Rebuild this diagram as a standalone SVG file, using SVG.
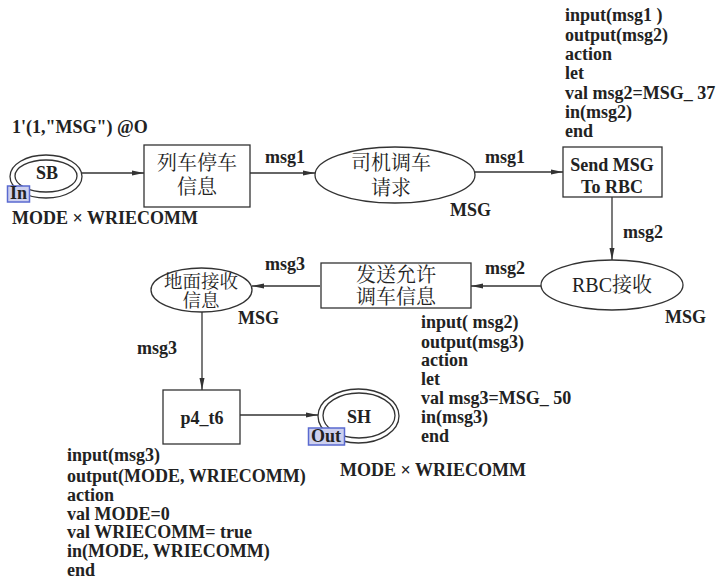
<svg xmlns="http://www.w3.org/2000/svg" width="728" height="580" viewBox="0 0 728 580">
<style>
.t{font-family:"Liberation Serif","Noto Sans CJK SC",serif;font-size:18px;font-weight:bold;fill:#222}
.c{font-family:"Liberation Serif","Noto Serif CJK SC","Noto Sans CJK SC",serif;font-size:20px;fill:#222}
.m{text-anchor:middle}
.s{fill:#fff;stroke:#333;stroke-width:1.3}
.e{fill:none;stroke:#333;stroke-width:1.3}
.tag{fill:#cdd0ee;stroke:#5a6ad0;stroke-width:1.5}
</style>
<defs>
<marker id="a" viewBox="0 0 12 6" refX="12" refY="3" markerWidth="12" markerHeight="6" markerUnits="userSpaceOnUse" orient="auto">
<path d="M0,0.5 L12,3 L0,5.5 Z" fill="#333"/>
</marker>
</defs>
<rect width="728" height="580" fill="#fff"/>

<g id="connectors" class="e" marker-end="url(#a)">
<line x1="82" y1="173" x2="144" y2="173"/>
<line x1="250" y1="173" x2="315" y2="173"/>
<line x1="475" y1="172" x2="563" y2="172"/>
<line x1="612" y1="197" x2="612" y2="260"/>
<line x1="542" y1="286" x2="471" y2="286"/>
<line x1="320" y1="286" x2="252" y2="286"/>
<line x1="202" y1="312" x2="202" y2="390"/>
<line x1="240" y1="415" x2="318" y2="415"/>
</g>

<g id="labels">
<text class="t" x="265" y="163">msg1</text>
<text class="t" x="485" y="163">msg1</text>
<text class="t" x="623" y="238">msg2</text>
<text class="t" x="485" y="274">msg2</text>
<text class="t" x="265" y="270">msg3</text>
<text class="t" x="137" y="354">msg3</text>
</g>

<g id="SB">
<ellipse class="s" cx="46" cy="176.5" rx="36" ry="21.5"/>
<ellipse class="e" cx="46" cy="176" rx="31" ry="16"/>
<text class="t m" x="47" y="179">SB</text>
<rect class="tag" x="7.5" y="186" width="22" height="16"/>
<text class="t" x="10" y="199">In</text>
<text class="t" x="12" y="133">1'(1,"MSG") @O</text>
<text class="t" x="12" y="224">MODE × WRIECOMM</text>
</g>

<g id="T1">
<rect class="s" x="144" y="145" width="106" height="62"/>
<text class="c m" x="197" y="170">列车停车</text>
<text class="c m" x="197" y="194">信息</text>
</g>

<g id="P2">
<ellipse class="s" cx="395" cy="175" rx="80" ry="28"/>
<text class="c m" x="391" y="170">司机调车</text>
<text class="c m" x="391" y="195">请求</text>
<text class="t" x="450" y="216">MSG</text>
</g>

<g id="T2">
<rect class="s" x="563" y="147" width="99" height="50"/>
<text class="t m" x="612" y="171">Send MSG</text>
<text class="t m" x="612" y="193">To RBC</text>
<text class="t" x="565" y="21">input(msg1 )</text>
<text class="t" x="565" y="40.5">output(msg2)</text>
<text class="t" x="565" y="60">action</text>
<text class="t" x="565" y="79">let</text>
<text class="t" x="565" y="98.5">val msg2=MSG_ 37</text>
<text class="t" x="565" y="118">in(msg2)</text>
<text class="t" x="565" y="137">end</text>
</g>

<g id="P3">
<ellipse class="s" cx="612" cy="285" rx="71" ry="25"/>
<text class="c m" x="612" y="292">RBC接收</text>
<text class="t" x="665" y="323">MSG</text>
</g>

<g id="T3">
<rect class="s" x="321" y="263" width="150" height="45"/>
<text class="c m" x="396" y="282">发送允许</text>
<text class="c m" x="396" y="304">调车信息</text>
<text class="t" x="421" y="328">input( msg2)</text>
<text class="t" x="421" y="347.5">output(msg3)</text>
<text class="t" x="421" y="366">action</text>
<text class="t" x="421" y="384.5">let</text>
<text class="t" x="421" y="403.5">val msg3=MSG_ 50</text>
<text class="t" x="421" y="422.5">in(msg3)</text>
<text class="t" x="421" y="442">end</text>
</g>

<g id="P4">
<ellipse class="s" cx="201.5" cy="290" rx="50.5" ry="22"/>
<text class="c m" x="201" y="288" style="font-size:18.5px">地面接收</text>
<text class="c m" x="201" y="307" style="font-size:18.5px">信息</text>
<text class="t" x="238" y="324">MSG</text>
</g>

<g id="T4">
<rect class="s" x="163" y="390" width="77" height="54"/>
<text class="t m" x="202" y="424">p4_t6</text>
<text class="t" x="67" y="461">input(msg3)</text>
<text class="t" x="67" y="481.5">output(MODE, WRIECOMM)</text>
<text class="t" x="67" y="500.5">action</text>
<text class="t" x="67" y="519.5">val MODE=0</text>
<text class="t" x="67" y="538">val WRIECOMM= true</text>
<text class="t" x="67" y="557">in(MODE, WRIECOMM)</text>
<text class="t" x="67" y="575.5">end</text>
</g>

<g id="SH">
<ellipse class="s" cx="358.5" cy="416" rx="40.5" ry="27"/>
<ellipse class="e" cx="359" cy="415.5" rx="36" ry="22.5"/>
<text class="t m" x="359" y="423">SH</text>
<rect class="tag" x="308.5" y="428" width="36" height="17"/>
<text class="t" x="311" y="442">Out</text>
<text class="t" x="340" y="476">MODE × WRIECOMM</text>
</g>
</svg>
